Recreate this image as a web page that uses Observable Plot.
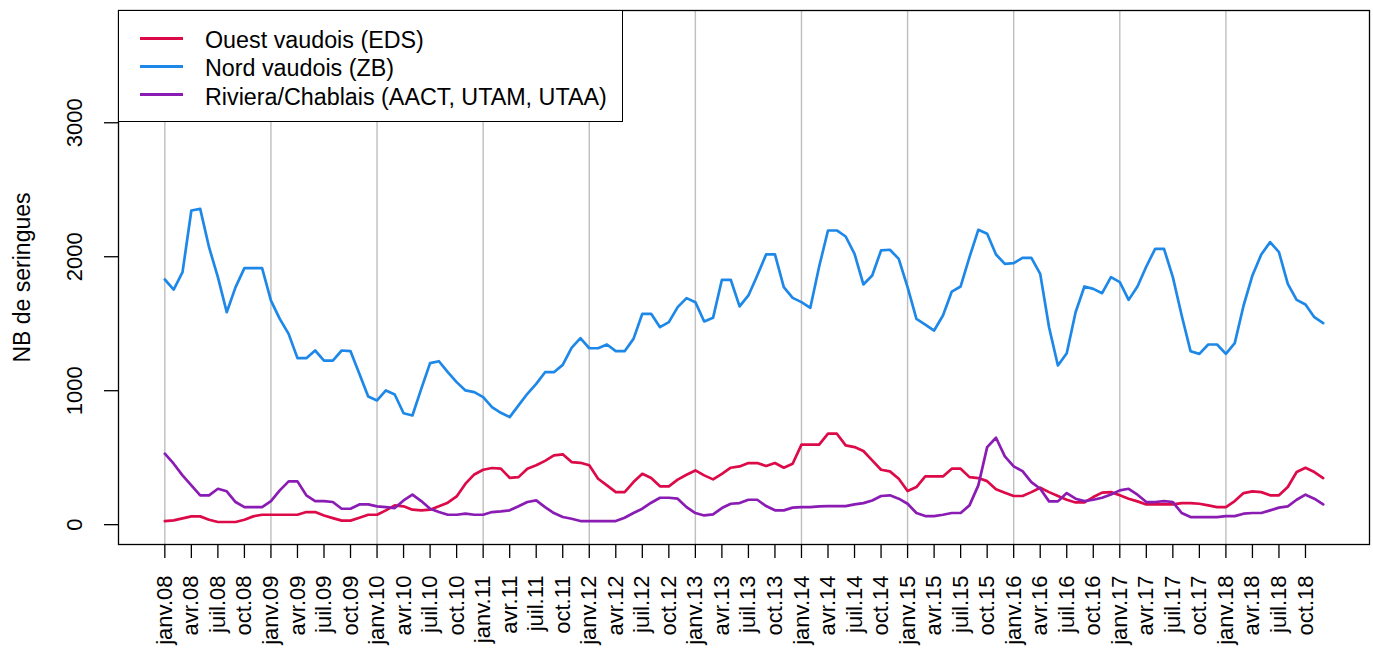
<!DOCTYPE html>
<html><head><meta charset="utf-8">
<script src="https://cdn.jsdelivr.net/npm/d3@7"></script>
<script src="https://cdn.jsdelivr.net/npm/@observablehq/plot@0.6"></script>
<style>
body{margin:0;background:#fff;font-family:"Liberation Sans",Arial,sans-serif;}
#wrap{position:relative;width:1373px;height:650px;overflow:hidden;background:#fff}
#legend{position:absolute;left:118px;top:10px;width:505px;height:112px;border:1.3px solid #000;background:#fff;box-sizing:border-box}
.row{position:absolute;left:0;right:0;height:28px}
.sw{position:absolute;left:21px;top:12.5px;width:43px;height:3px}
.lab{position:absolute;left:86px;top:2px;line-height:28px;font-size:23.3px;color:#000;white-space:nowrap}
</style></head>
<body><div id="wrap"></div>
<script>
const seriesNames = ["Ouest vaudois (EDS)", "Nord vaudois (ZB)", "Riviera/Chablais (AACT, UTAM, UTAA)"];
const seriesColors = ["#DC0A48", "#1E88E8", "#8A1CB4"];
// monthly values, janv. 2008 .. déc. 2018
const ouest = [27,32,47,62,62,37,20,20,20,37,62,74,
  74,74,74,74,94,94,69,49,30,30,52,74,
  74,107,144,137,112,107,112,137,164,211,306,375,
  410,423,418,350,355,418,443,476,517,525,467,462,
  443,343,293,243,243,318,380,348,286,286,336,373,
  405,368,338,380,425,435,460,460,438,460,425,455,
  597,597,597,679,679,592,579,550,480,410,398,343,
  251,281,360,360,360,418,418,355,348,325,265,239,
  214,214,243,276,243,214,186,166,166,206,239,243,
  219,194,174,151,151,151,151,161,161,156,144,131,
  131,176,236,249,243,219,219,281,393,425,393,348];
const nord = [1830,1755,1885,2345,2357,2071,1848,1586,1773,1915,1915,1915,
  1673,1536,1424,1243,1243,1300,1225,1225,1300,1295,1126,957,
  927,1002,972,832,815,1014,1206,1220,1138,1064,1002,989,
  952,877,835,803,890,977,1051,1138,1138,1193,1320,1392,
  1317,1317,1345,1295,1295,1387,1574,1574,1474,1512,1624,1691,
  1661,1517,1544,1828,1828,1629,1711,1860,2017,2017,1773,1693,
  1661,1619,1927,2196,2196,2151,2022,1793,1860,2047,2052,1984,
  1773,1536,1494,1449,1561,1740,1778,1997,2201,2171,2017,1947,
  1952,1992,1992,1872,1474,1188,1280,1586,1778,1760,1728,1848,
  1810,1678,1778,1927,2059,2059,1848,1561,1295,1275,1345,1345,
  1275,1355,1636,1860,2017,2109,2034,1798,1678,1643,1549,1504];
const riviera = [530,455,368,293,219,219,268,249,169,131,131,131,
  176,256,323,323,219,176,176,169,119,119,151,151,
  137,131,124,181,224,176,119,94,74,74,82,74,
  74,94,99,107,137,169,181,131,87,57,44,27,
  27,27,27,27,52,87,119,164,201,201,194,131,
  87,69,77,124,156,161,186,186,139,107,107,127,
  131,131,137,139,139,139,151,161,181,214,219,194,
  156,87,64,64,74,87,87,144,293,579,649,510,
  435,400,318,268,174,174,236,194,176,186,201,226,
  256,268,224,169,169,176,169,87,57,57,57,57,
  64,64,82,87,87,107,127,137,186,224,194,151];
const monthLabels = ["janv.", "avr.", "juil.", "oct."];
const years = ["08","09","10","11","12","13","14","15","16","17","18"];
const yTicks = [0, 1000, 2000, 3000];
const yTitle = "NB de seringues";

const tickIdx = [], tickLabels = [];
years.forEach((yy, k) => monthLabels.forEach((m, j) => { tickIdx.push(k*12 + j*3); tickLabels.push(m + yy); }));
const janIdx = years.map((yy, k) => k*12);

const all = [ouest, nord, riviera];
const data = [];
all.forEach((vals, s) => vals.forEach((v, i) => data.push({i, v, s: seriesNames[s]})));

const n = nord.length;
const ext = (n - 1) * 0.04;

const chart = Plot.plot({
  width: 1373, height: 650,
  marginLeft: 118, marginRight: 4, marginTop: 10, marginBottom: 106,
  style: {fontFamily: '"Liberation Sans", Arial, sans-serif', fontSize: "22px", background: "#fff", color: "#000"},
  x: {type: "linear", domain: [-ext, n - 1 + ext], axis: null, label: null},
  y: {domain: [-148, 3838], axis: null, label: null},
  color: {domain: seriesNames, range: seriesColors},
  marks: [
    Plot.ruleX(janIdx, {x: d => d, stroke: "#BEBEBE", strokeWidth: 1.4}),
    Plot.line(data, {x: "i", y: "v", z: "s", stroke: "s", strokeWidth: 2.7, strokeLinejoin: "round"}),
    Plot.frame({stroke: "#000", strokeWidth: 1.3}),
    Plot.axisY({ticks: yTicks, tickSize: 14, tickFormat: () => "", label: null, stroke: "#000", strokeWidth: 1.3}),
    Plot.axisX({ticks: tickIdx, tickSize: 14, tickFormat: () => "", label: null, stroke: "#000", strokeWidth: 1.3}),
    Plot.text(yTicks, {y: d => d, text: d => String(d), frameAnchor: "left", dx: -44, rotate: -90, textAnchor: "middle", lineAnchor: "middle", fontSize: 22, fill: "#000"}),
    Plot.text(tickIdx, {x: d => d, text: (d, k) => tickLabels[k], frameAnchor: "bottom", dy: 31, rotate: -90, textAnchor: "end", lineAnchor: "middle", fontSize: 22, fill: "#000"}),
    Plot.text([yTitle], {frameAnchor: "left", dx: -96, rotate: -90, textAnchor: "middle", lineAnchor: "middle", fontSize: 23, fill: "#000"})
  ]
});
const wrap = document.getElementById("wrap");
wrap.appendChild(chart);

const legend = document.createElement("div");
legend.id = "legend";
seriesNames.forEach((name, k) => {
  const row = document.createElement("div");
  row.className = "row";
  row.style.top = (13 + k * 28.3) + "px";
  const sw = document.createElement("div");
  sw.className = "sw";
  sw.style.background = seriesColors[k];
  const lab = document.createElement("div");
  lab.className = "lab";
  lab.textContent = name;
  row.appendChild(sw); row.appendChild(lab);
  legend.appendChild(row);
});
wrap.appendChild(legend);
</script>
</body></html>
